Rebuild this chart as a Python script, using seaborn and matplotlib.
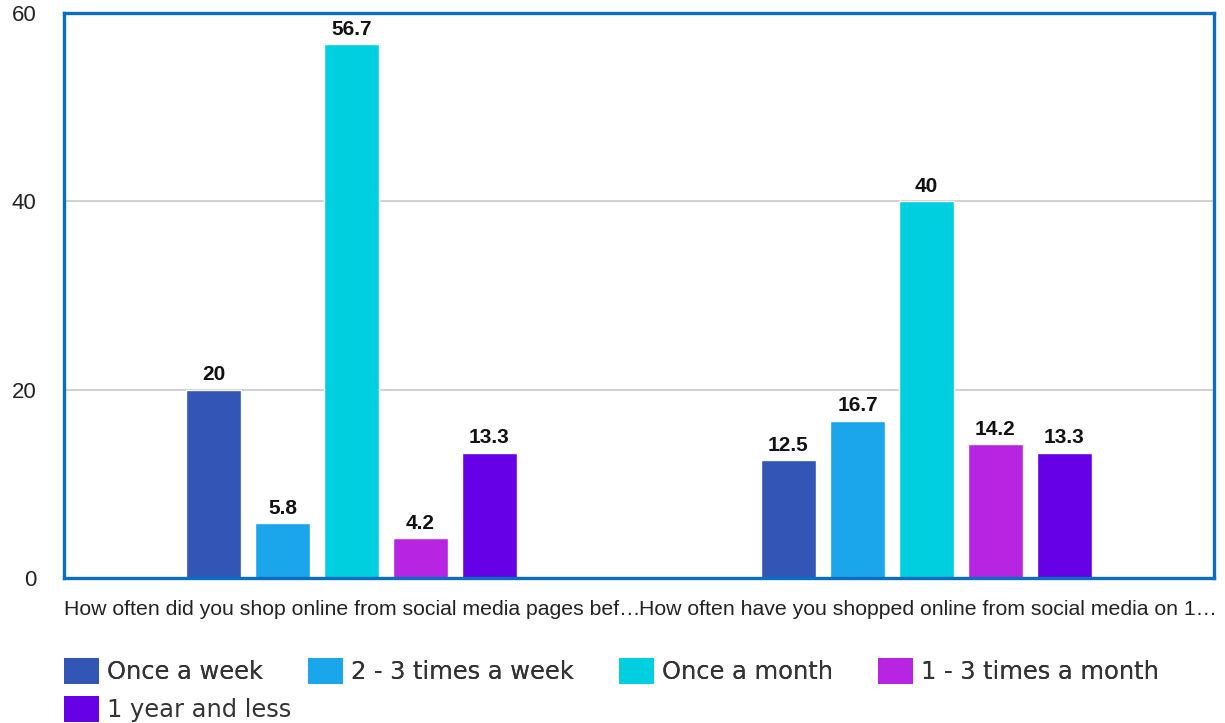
import pandas as pd
import seaborn as sns
import matplotlib.pyplot as plt
from matplotlib.patches import Patch

# Data
questions = ["How often did you shop online from social media pages bef\u2026",
             "How often have you shopped online from social media on 1\u2026"]
answers = ["Once a week", "2 - 3 times a week", "Once a month",
           "1 - 3 times a month", "1 year and less"]
before = [20, 5.8, 56.7, 4.2, 13.3]
after = [12.5, 16.7, 40, 14.2, 13.3]
colors = ["#3355B5", "#1BA6EC", "#00CFE0", "#B825E2", "#6600E6"]

df = pd.DataFrame({
    "question": [questions[0]] * 5 + [questions[1]] * 5,
    "answer": answers * 2,
    "value": before + after,
})

sns.set_style("white")
plt.rcParams['font.family'] = ['Liberation Sans', 'DejaVu Sans']

fig = plt.figure(figsize=(12.25, 7.23), dpi=100)
ax = fig.add_axes([0.0522, 0.2006, 0.9388, 0.7814])

sns.barplot(data=df, x="question", y="value", hue="answer", hue_order=answers,
            palette=colors, width=0.6, gap=0.2, saturation=1, ax=ax, legend=False)

for cont in ax.containers:
    ax.bar_label(cont, labels=[f"{v:g}" for v in cont.datavalues], padding=4,
                 fontsize=15, fontweight="bold", color="#111111")

ax.set_ylim(0, 60)
ax.set_xlim(-0.5, 1.5)
ax.set_yticks([0, 20, 40, 60])
ax.yaxis.grid(True, color="#C8C8C8", linewidth=1.2)
ax.set_axisbelow(True)
ax.tick_params(axis="y", length=14, color="#C5CFDD", labelsize=16, pad=6, labelcolor="#222222")
ax.set_xticks([-0.5, 0.5])
ax.set_xticklabels(questions, ha="left", fontsize=15.3, color="#222222")
ax.tick_params(axis="x", length=8, color="#C5CFDD", pad=8)
ax.set_xlabel("")
ax.set_ylabel("")
for s in ax.spines.values():
    s.set_visible(True)
    s.set_color("#0A6FC2")
    s.set_linewidth(2.4)

# legend below the chart: four in the first row, one in the second
handles = [Patch(facecolor=c, edgecolor="none") for c in colors]
leg_kw = dict(loc="center left", frameon=False,
              prop={"family": "DejaVu Sans", "size": 17.4}, labelcolor="#333333",
              handlelength=1.45, handleheight=1.25, handletextpad=0.34,
              columnspacing=1.85, borderaxespad=0, borderpad=0)
leg1 = fig.legend(handles[:4], answers[:4], ncol=4,
                  bbox_to_anchor=(64 / 1225, 1 - 671 / 723), **leg_kw)
fig.add_artist(leg1)
fig.legend(handles[4:], answers[4:], ncol=1,
           bbox_to_anchor=(64 / 1225, 1 - 709 / 723), **leg_kw)

plt.savefig("out.png", dpi=100)
